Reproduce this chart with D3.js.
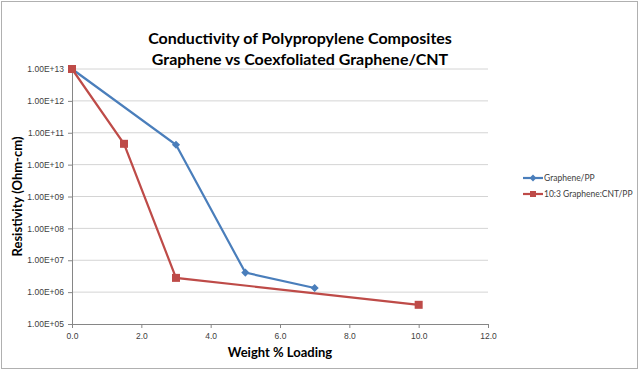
<!DOCTYPE html>
<html>
<head>
<meta charset="utf-8">
<script src="https://cdn.jsdelivr.net/npm/d3@7"></script>
<style>
  body { margin: 0; background: #fff; }
  svg { font-family: Lato, "Open Sans", sans-serif; }
  .tick text { fill: #404040; font-size: 8.5px; }
</style>
</head>
<body>
<svg id="chart"></svg>
<script>
// series data
const seriesNames = ['Graphene/PP', '10:3 Graphene:CNT/PP'];
const grapheneLoading = [0, 3, 5, 7];
const grapheneResistivity = [1e13, 4.2e10, 4.1e6, 1.35e6];
const cntLoading = [0, 1.5, 3, 10];
const cntResistivity = [1e13, 4.5e10, 2.8e6, 4.0e5];
const xTicks = [0, 2, 4, 6, 8, 10, 12];
const yTicks = [1e5, 1e6, 1e7, 1e8, 1e9, 1e10, 1e11, 1e12, 1e13];

const colors = ['#4a7ebb', '#be4b48'];

const width = 640, height = 371;
const margin = {top: 69, right: 152, bottom: 47, left: 72};

const svg = d3.select('#chart')
    .attr('width', width)
    .attr('height', height);

// outer frame
svg.append('rect')
    .attr('x', 1.5).attr('y', 1.5)
    .attr('width', width - 4).attr('height', height - 4)
    .attr('fill', '#fff')
    .attr('stroke', '#b0b0b0');

const innerW = width - margin.left - margin.right;
const innerH = height - margin.top - margin.bottom;

const xScale = d3.scaleLinear().domain([0, 12]).range([0, innerW]);
const yScale = d3.scaleLog().domain([1e5, 1e13]).range([innerH, 0]);

const chart = svg.append('g')
    .attr('transform', `translate(${margin.left},${margin.top})`);

// horizontal grid
chart.append('g')
    .selectAll('line')
    .data(yTicks.slice(1))
    .join('line')
    .attr('x1', 0).attr('x2', innerW)
    .attr('y1', d => yScale(d)).attr('y2', d => yScale(d))
    .attr('stroke', '#d4d4d4');

const fmtY = d => {
  const e = Math.round(Math.log10(d));
  return '1.00E+' + String(e).padStart(2, '0');
};

const yAxis = d3.axisLeft(yScale).tickValues(yTicks).tickFormat(fmtY).tickSize(4).tickPadding(4);
const xAxis = d3.axisBottom(xScale).tickValues(xTicks).tickFormat(d3.format('.1f')).tickSize(4).tickPadding(5);

const yAxisG = chart.append('g').call(yAxis);
const xAxisG = chart.append('g').attr('transform', `translate(0,${innerH})`).call(xAxis);
[yAxisG, xAxisG].forEach(g => {
  g.selectAll('.domain, .tick line').attr('stroke', '#868686');
});

// lines + markers
const line = d3.line().x(d => xScale(d[0])).y(d => yScale(d[1]));
const series = [
  d3.zip(grapheneLoading, grapheneResistivity),
  d3.zip(cntLoading, cntResistivity)
];

series.forEach((pts, i) => {
  chart.append('path')
      .datum(pts)
      .attr('d', line)
      .attr('fill', 'none')
      .attr('stroke', colors[i])
      .attr('stroke-width', 2.2);
});

const diamond = d3.symbol().type(d3.symbolDiamond2).size(42);
chart.append('g').selectAll('path')
    .data(series[0])
    .join('path')
    .attr('transform', d => `translate(${xScale(d[0])},${yScale(d[1])})`)
    .attr('d', diamond)
    .attr('fill', colors[0]);

chart.append('g').selectAll('rect')
    .data(series[1])
    .join('rect')
    .attr('x', d => xScale(d[0]) - 4)
    .attr('y', d => yScale(d[1]) - 4)
    .attr('width', 8).attr('height', 8)
    .attr('fill', colors[1]);

// title
const title = svg.append('text')
    .attr('text-anchor', 'middle')
    .attr('font-size', 16)
    .attr('font-weight', 'bold')
    .attr('fill', '#000');
title.append('tspan').attr('x', 300).attr('y', 44).text('Conductivity of Polypropylene Composites');
title.append('tspan').attr('x', 300).attr('y', 65).text('Graphene vs Coexfoliated Graphene/CNT');

// axis titles
svg.append('text')
    .attr('transform', `translate(22,${margin.top + innerH / 2}) rotate(-90)`)
    .attr('text-anchor', 'middle')
    .attr('font-size', 13)
    .attr('font-weight', 'bold')
    .text('Resistivity (Ohm-cm)');

svg.append('text')
    .attr('x', 280).attr('y', 357)
    .attr('text-anchor', 'middle')
    .attr('font-size', 13)
    .attr('font-weight', 'bold')
    .text('Weight % Loading');

// legend
const legend = svg.append('g').attr('transform', 'translate(523,178)');
seriesNames.forEach((name, i) => {
  const g = legend.append('g').attr('transform', `translate(0,${i * 16})`);
  g.append('line').attr('x1', 0).attr('x2', 20).attr('stroke', colors[i]).attr('stroke-width', 2.2);
  if (i === 0) {
    g.append('path').attr('transform', 'translate(10,0)').attr('d', d3.symbol().type(d3.symbolDiamond2).size(30)).attr('fill', colors[i]);
  } else {
    g.append('rect').attr('x', 7).attr('y', -3).attr('width', 6).attr('height', 6).attr('fill', colors[i]);
  }
  g.append('text').attr('x', 21).attr('y', 3).attr('font-size', 8.5).attr('fill', '#404040').text(name);
});
</script>
</body>
</html>
